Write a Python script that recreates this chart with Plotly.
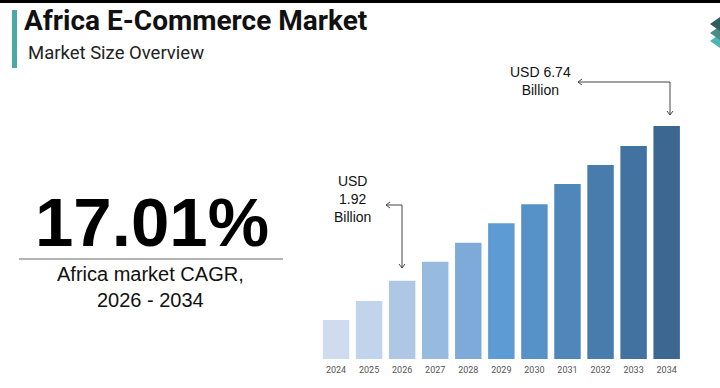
import plotly.graph_objects as go

W, H = 720, 388

years = ["2024", "2025", "2026", "2027", "2028", "2029", "2030", "2031", "2032", "2033", "2034"]
market_size = [1.13, 1.68, 2.26, 2.81, 3.36, 3.93, 4.48, 5.06, 5.61, 6.16, 6.74]
bar_colors = ["#cfdcee", "#c2d4eb", "#aec7e5", "#97badf", "#7eaad9", "#5d9bd4",
              "#5692c8", "#4f87bb", "#487cad", "#42729f", "#3b6790"]

title_text = "Africa E-Commerce Market"
subtitle_text = "Market Size Overview"
cagr_text = "17.01%"
cagr_label = "Africa market CAGR,<br>2026 - 2034"
base_label = "USD<br>1.92<br>Billion"
forecast_label = "USD 6.74<br>Billion"


def px(x):
    return x / W


def py(y):
    return 1 - y / H


fig = go.Figure()
fig.add_trace(go.Bar(
    x=years, y=market_size,
    marker=dict(color=bar_colors, line=dict(width=0)),
    hoverinfo="x+y", showlegend=False,
))

fig.update_layout(
    width=W, height=H,
    margin=dict(l=0, r=0, t=0, b=0),
    paper_bgcolor="white", plot_bgcolor="white",
    bargap=0.2,
    font=dict(family="Roboto, Arial, sans-serif", color="#111"),
    xaxis=dict(domain=[px(319.5), px(683.2)], range=[-0.5, 10.5],
               showgrid=False, zeroline=False, showline=False, ticks="",
               tickfont=dict(size=9, color="#555", family="Roboto, sans-serif"),
               ticklabelstandoff=4),
    yaxis=dict(domain=[py(359), py(126)], range=[0, 6.74],
               visible=False, showgrid=False, zeroline=False),
)

ann = []
# Title & subtitle
ann.append(dict(xref="paper", yref="paper", x=px(22), y=py(20), text="<b>" + title_text + "</b>",
                showarrow=False, xanchor="left", yanchor="middle",
                font=dict(size=28, color="#111", family="Roboto, Arial, sans-serif")))
ann.append(dict(xref="paper", yref="paper", x=px(26), y=py(53), text=subtitle_text,
                showarrow=False, xanchor="left", yanchor="middle",
                font=dict(size=18.5, color="#222", family="Roboto, Arial, sans-serif")))
# CAGR
ann.append(dict(xref="paper", yref="paper", x=px(152), y=py(222), text="<b>" + cagr_text + "</b>",
                showarrow=False, xanchor="center", yanchor="middle",
                font=dict(size=69, color="#000", family="Liberation Sans, Arial, sans-serif")))
ann.append(dict(xref="paper", yref="paper", x=px(150), y=py(287), text=cagr_label,
                showarrow=False, xanchor="center", yanchor="middle",
                font=dict(size=20, color="#111", family="Liberation Sans, Arial, sans-serif")))
# Value callouts
ann.append(dict(xref="paper", yref="paper", x=px(352), y=py(199), text=base_label,
                showarrow=False, xanchor="center", yanchor="middle",
                font=dict(size=14, color="#111", family="Liberation Sans, Arial, sans-serif")))
ann.append(dict(xref="paper", yref="paper", x=px(540), y=py(81), text=forecast_label,
                showarrow=False, xanchor="center", yanchor="middle",
                font=dict(size=14, color="#111", family="Liberation Sans, Arial, sans-serif")))
# Rotated labels in bars
ann.append(dict(x="2025", y=0.62, text="Base Year", textangle=-90, showarrow=False,
                font=dict(size=8.5, color="#333", family="Roboto, sans-serif")))
ann.append(dict(x="2034", y=1.86, text="Forecast Year", textangle=-90, showarrow=False,
                font=dict(size=8.5, color="#c9d6e4", family="Roboto, sans-serif")))
fig.update_layout(annotations=ann)

shapes = []
# top black strip
shapes.append(dict(type="rect", xref="paper", yref="paper", x0=0, x1=1, y0=py(3), y1=1,
                   fillcolor="#000", line=dict(width=0)))
# teal accent bar
shapes.append(dict(type="rect", xref="paper", yref="paper", x0=px(12), x1=px(17), y0=py(68), y1=py(10),
                   fillcolor="#4aa9a8", line=dict(width=0)))
# CAGR divider
shapes.append(dict(type="line", xref="paper", yref="paper", x0=px(19), x1=px(283), y0=py(259), y1=py(259),
                   line=dict(color="#666", width=1)))


def path_px(points):
    return "M " + " L ".join(f"{px(x)} {py(y)}" for x, y in points)


# logo chevrons
for (yc, col) in [(41, "#4db6b5"), (33, "#4a8b86"), (24, "#2e5e5a")]:
    shapes.append(dict(type="path", xref="paper", yref="paper",
                       path=path_px([(720, yc - 7), (710, yc), (720, yc + 7)]) + " Z",
                       fillcolor=col, line=dict(width=0)))

arrow_col = "#444"
# 1.92 callout arrow
shapes.append(dict(type="path", xref="paper", yref="paper",
                   path=path_px([(386, 205), (402, 205), (402, 268)]),
                   line=dict(color=arrow_col, width=1)))
shapes.append(dict(type="path", xref="paper", yref="paper",
                   path=path_px([(390, 202), (386, 205), (390, 208)]),
                   line=dict(color=arrow_col, width=1)))
shapes.append(dict(type="path", xref="paper", yref="paper",
                   path=path_px([(399, 264), (402, 268), (405, 264)]),
                   line=dict(color=arrow_col, width=1)))
# 6.74 callout arrow
shapes.append(dict(type="path", xref="paper", yref="paper",
                   path=path_px([(578, 82), (670, 82), (670, 115)]),
                   line=dict(color=arrow_col, width=1)))
shapes.append(dict(type="path", xref="paper", yref="paper",
                   path=path_px([(582, 79), (578, 82), (582, 85)]),
                   line=dict(color=arrow_col, width=1)))
shapes.append(dict(type="path", xref="paper", yref="paper",
                   path=path_px([(667, 111), (670, 115), (673, 111)]),
                   line=dict(color=arrow_col, width=1)))
fig.update_layout(shapes=shapes)

fig.write_html("out.html", config={"displayModeBar": False})

# remove the default page margin so the figure sits at the window's top-left corner
with open("out.html", encoding="utf-8") as f:
    html = f.read()
html = html.replace("<body>", '<body style="margin:0;padding:0;overflow:hidden">', 1)
with open("out.html", "w", encoding="utf-8") as f:
    f.write(html)
